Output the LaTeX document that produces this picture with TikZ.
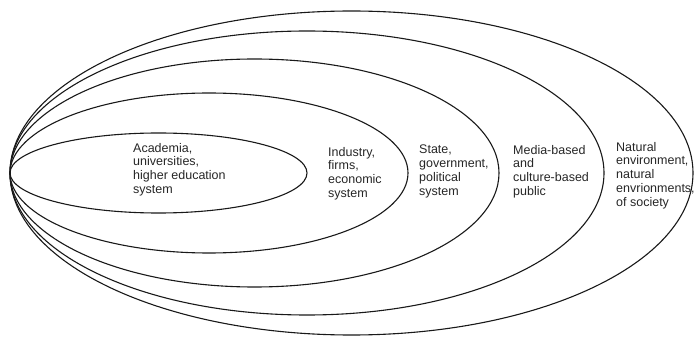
\documentclass[tikz,border=0pt]{standalone}
\usepackage{fontspec}
\setmainfont{Liberation Sans}
\begin{document}
\begin{tikzpicture}[x=1pt,y=1pt,
  ring/.style={draw=black!90, line width=1.1pt},
  lbl/.style={anchor=north west, align=left, inner sep=0pt,
    font=\fontsize{12.5}{13.7}\selectfont, text=black!85}]
\useasboundingbox (0,0) rectangle (696,343);
% nested ellipses sharing the left tip
\draw[ring] (158.5,170) ellipse [x radius=148.5, y radius=40];
\draw[ring] (209,170) ellipse [x radius=199, y radius=80];
\draw[ring] (254.5,170) ellipse [x radius=244.5, y radius=114];
\draw[ring] (307,170) ellipse [x radius=297, y radius=142];
\draw[ring] (351.5,170) ellipse [x radius=341.5, y radius=162];
% labels
\node[lbl] (acad) at (133,200) {Academia,\\universities,\\higher education\\system};
\node[lbl] (ind) at (328,196) {Industry,\\firms,\\economic\\system};
\node[lbl] (state) at (419,198) {State,\\government,\\political\\system};
\node[lbl] (media) at (513,198) {Media-based\\and\\culture-based\\public};
\node[lbl] (nat) at (616,201) {Natural\\environment,\\natural\\envrionments,\\of society};
\end{tikzpicture}
\end{document}
